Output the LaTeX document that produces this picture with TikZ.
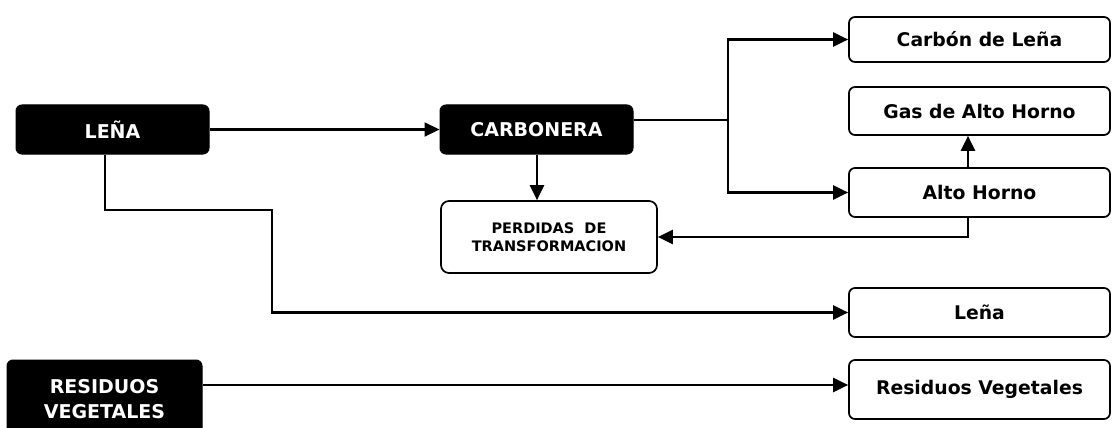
\documentclass[tikz,border=0pt]{standalone}
\usepackage{fontspec}
\setmainfont{DejaVu Sans}
\usetikzlibrary{arrows.meta}
\tikzset{
  blackbox/.style={draw=black, fill=black, text=white, rounded corners=6pt, line width=1pt,
    font=\fontsize{19}{25}\selectfont\bfseries, align=center, inner sep=0pt},
  whitebox/.style={draw=black, fill=white, rounded corners=6pt, line width=1.7pt,
    font=\fontsize{18.8}{22}\selectfont\bfseries, align=center, inner sep=0pt,
    minimum width=261pt},
  smallbox/.style={draw=black, fill=white, rounded corners=8pt, line width=1.7pt,
    font=\fontsize{14.5}{18}\selectfont\bfseries, align=center, inner sep=0pt},
  line/.style={line width=2.2pt},
  arr/.style={line width=2.2pt, -{Triangle[length=15pt,width=14pt]}},
}
\begin{document}
\begin{tikzpicture}[x=1pt,y=-1pt]
\useasboundingbox (0,0) rectangle (1112,428);
\clip (0,0) rectangle (1112,428);
% nodes
\node[blackbox, minimum width=193pt, minimum height=49pt] (lena) at (112.5,129.5) {LEÑA};
\node[blackbox, minimum width=193pt, minimum height=49pt] (carb) at (536.5,129.5) {CARBONERA};
\node[smallbox, minimum width=216pt, minimum height=72pt] (perd) at (549,237) {PERDIDAS\ \ DE\\TRANSFORMACION};
\node[whitebox, minimum height=45pt] (carbon) at (979.5,39.5) {Carbón de Leña};
\node[whitebox, minimum height=48pt] (gas) at (979.5,111) {Gas de Alto Horno};
\node[whitebox, minimum height=49pt] (alto) at (979.5,192.5) {Alto Horno};
\node[whitebox, minimum height=49pt] (lenaout) at (979.5,312.5) {Leña};
\node[whitebox, minimum height=59pt] (resout) at (979.5,389.5) {Residuos Vegetales};
\node[blackbox, minimum width=195pt, minimum height=78pt] (resid) at (104.5,399) {RESIDUOS\\VEGETALES};
% helper coordinates
\coordinate (br) at (728,120);
\coordinate (fx) at (968,0);
\coordinate (k1) at (105,210);
\coordinate (k2) at (272,210);
\coordinate (ry) at (0,385);
% connectors
\draw[arr] (lena) -- (carb);
\draw[line] (carb.east |- br) -- (br);
\draw[arr] (br) |- (carbon.west);
\draw[arr] (br) |- (alto.west);
\draw[arr] (carb.south -| 537,0) -- (perd.north -| 537,0);
\draw[arr] (alto.north -| fx) -- (gas.south -| fx);
\draw[arr] (alto.south -| fx) |- (perd.east);
\draw[arr] (lena.south -| k1) -- (k1) -- (k2) |- (lenaout.west);
\draw[arr] (resid.east |- ry) -- (resout.west |- ry);
\end{tikzpicture}
\end{document}
